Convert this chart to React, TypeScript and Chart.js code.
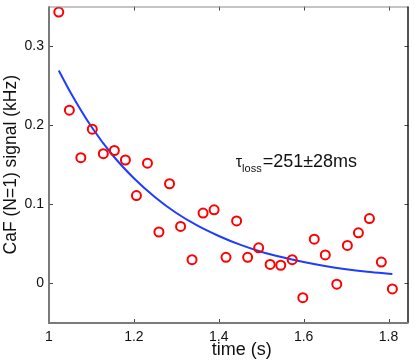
import React, { useEffect, useRef } from "react";
import { Chart, registerables } from "chart.js";

Chart.register(...registerables);

// Measured data (time in s, CaF signal in kHz)
const timeS = [
  1.023, 1.048, 1.075, 1.102, 1.128, 1.154, 1.18, 1.206, 1.232, 1.259, 1.284,
  1.31, 1.337, 1.363, 1.389, 1.417, 1.442, 1.468, 1.494, 1.521, 1.546, 1.573,
  1.598, 1.625, 1.651, 1.678, 1.703, 1.729, 1.755, 1.783, 1.809,
];
const signalKHz = [
  0.343, 0.219, 0.159, 0.195, 0.164, 0.168, 0.156, 0.111, 0.152, 0.065, 0.126,
  0.072, 0.03, 0.089, 0.093, 0.033, 0.079, 0.033, 0.045, 0.024, 0.023, 0.03,
  -0.018, 0.056, 0.036, -0.001, 0.048, 0.064, 0.082, 0.027, -0.007,
];

// Fit curve
const fitTime = [
  1.023, 1.05, 1.1, 1.15, 1.2, 1.25, 1.3, 1.35, 1.4, 1.45, 1.5, 1.55, 1.6,
  1.65, 1.7, 1.75, 1.809,
];
const fitSignal = [
  0.269, 0.242, 0.198, 0.162, 0.133, 0.109, 0.089, 0.073, 0.06, 0.049, 0.04,
  0.033, 0.027, 0.022, 0.018, 0.0149, 0.012,
];

const xTicks = [1, 1.2, 1.4, 1.6, 1.8];
const yTicks = [0, 0.1, 0.2, 0.3];
const xRange = [1, 1.847];
const yRange = [-0.05, 0.35];

const xLabel = "time (s)";
const yLabel = "CaF (N=1) signal (kHz)";
const tauSymbol = "τ";
const tauSub = "loss";
const tauValue = "=251±28ms";
const tauAt = { x: 1.44, y: 0.147 };

const FONT = "'Liberation Sans', Arial, Helvetica, sans-serif";

const framePlugin = {
  id: "matlabFrame",
  afterDraw(chart: any) {
    const { ctx, chartArea: a, scales } = chart;
    const xs = scales.x;
    const ys = scales.y;
    ctx.save();
    // tick marks (inward, mirrored)
    ctx.strokeStyle = "#444";
    ctx.lineWidth = 1;
    const tl = 4;
    xTicks.forEach((v) => {
      const px = Math.round(xs.getPixelForValue(v)) + 0.5;
      ctx.beginPath();
      ctx.moveTo(px, a.bottom);
      ctx.lineTo(px, a.bottom - tl);
      ctx.moveTo(px, a.top);
      ctx.lineTo(px, a.top + tl);
      ctx.stroke();
    });
    yTicks.forEach((v) => {
      const py = Math.round(ys.getPixelForValue(v)) + 0.5;
      ctx.beginPath();
      ctx.moveTo(a.left, py);
      ctx.lineTo(a.left + tl, py);
      ctx.moveTo(a.right, py);
      ctx.lineTo(a.right - tl, py);
      ctx.stroke();
    });
    // top & right spines
    ctx.strokeStyle = "#8a8a8a";
    ctx.lineWidth = 1;
    ctx.beginPath();
    ctx.moveTo(a.left, a.top + 0.5);
    ctx.lineTo(a.right, a.top + 0.5);
    ctx.stroke();
    ctx.strokeStyle = "#1a1a1a";
    ctx.lineWidth = 1.5;
    ctx.beginPath();
    ctx.moveTo(a.right - 0.5, a.top);
    ctx.lineTo(a.right - 0.5, a.bottom);
    ctx.stroke();
    // left & bottom spines
    ctx.strokeStyle = "#7a7a7a";
    ctx.lineWidth = 2;
    ctx.beginPath();
    ctx.moveTo(a.left, a.top);
    ctx.lineTo(a.left, a.bottom);
    ctx.lineTo(a.right, a.bottom);
    ctx.stroke();

    // x axis title
    ctx.fillStyle = "#111";
    ctx.font = `18px ${FONT}`;
    ctx.textAlign = "center";
    ctx.textBaseline = "alphabetic";
    ctx.fillText(xLabel, (a.left + a.right) / 2 + 13, 355);

    // annotation
    let tx = xs.getPixelForValue(tauAt.x);
    const ty = ys.getPixelForValue(tauAt.y);
    ctx.textAlign = "left";
    ctx.font = `16px ${FONT}`;
    ctx.fillText(tauSymbol, tx, ty);
    tx += ctx.measureText(tauSymbol).width;
    ctx.font = `11px ${FONT}`;
    ctx.fillText(tauSub, tx, ty + 5);
    tx += ctx.measureText(tauSub).width + 1;
    ctx.font = `18px ${FONT}`;
    ctx.fillText(tauValue, tx, ty);
    ctx.restore();
  },
};

export default function App() {
  const ref = useRef<HTMLCanvasElement>(null);
  useEffect(() => {
    if (!ref.current) return;
    const chart = new Chart(ref.current, {
      type: "scatter",
      data: {
        datasets: [
          {
            type: "line",
            label: "fit",
            data: fitTime.map((t, i) => ({ x: t, y: fitSignal[i] })),
            borderColor: "#1f3cff",
            borderWidth: 2,
            pointRadius: 0,
            fill: false,
            cubicInterpolationMode: "monotone",
            order: 2,
          } as any,
          {
            type: "scatter",
            label: "data",
            data: timeS.map((t, i) => ({ x: t, y: signalKHz[i] })),
            borderColor: "#ff0000",
            backgroundColor: "rgba(0,0,0,0)",
            borderWidth: 2,
            pointRadius: 4.5,
            pointStyle: "circle",
            order: 1,
          },
        ],
      },
      options: {
        animation: false,
        responsive: false,
        events: [],
        layout: { padding: { top: 6, right: 2, left: 0, bottom: 0 } },
        plugins: {
          legend: { display: false },
          tooltip: { enabled: false },
        },
        scales: {
          x: {
            type: "linear",
            min: xRange[0],
            max: xRange[1],
            grid: { display: false, drawTicks: false },
            border: { display: false },
            afterFit: (s: any) => {
              s.height = 41;
              s.paddingLeft = 0;
              s.paddingRight = 0;
            },
            afterBuildTicks: (s: any) => {
              s.ticks = xTicks.map((v) => ({ value: v }));
            },
            ticks: {
              padding: 6,
              color: "#111",
              font: { family: FONT, size: 14 },
              maxRotation: 0,
              callback: (v: any) => String(v),
            },
          },
          y: {
            type: "linear",
            min: yRange[0],
            max: yRange[1],
            grid: { display: false, drawTicks: false },
            border: { display: false },
            afterFit: (s: any) => {
              s.width = 49;
              s.paddingTop = 0;
              s.paddingBottom = 0;
            },
            afterBuildTicks: (s: any) => {
              s.ticks = yTicks.map((v) => ({ value: v }));
            },
            title: {
              display: true,
              text: yLabel,
              color: "#111",
              font: { family: FONT, size: 17.5 },
              padding: { top: 1, bottom: 0 },
            },
            ticks: {
              padding: 5,
              color: "#111",
              font: { family: FONT, size: 14 },
              callback: (v: any) => String(v),
            },
          },
        },
      },
      plugins: [framePlugin],
    });
    return () => chart.destroy();
  }, []);
  return (
    <div style={{ position: "absolute", left: 0, top: 0, width: 415, height: 364, background: "#fff" }}>
      <canvas ref={ref} width={415} height={364} />
    </div>
  );
}
